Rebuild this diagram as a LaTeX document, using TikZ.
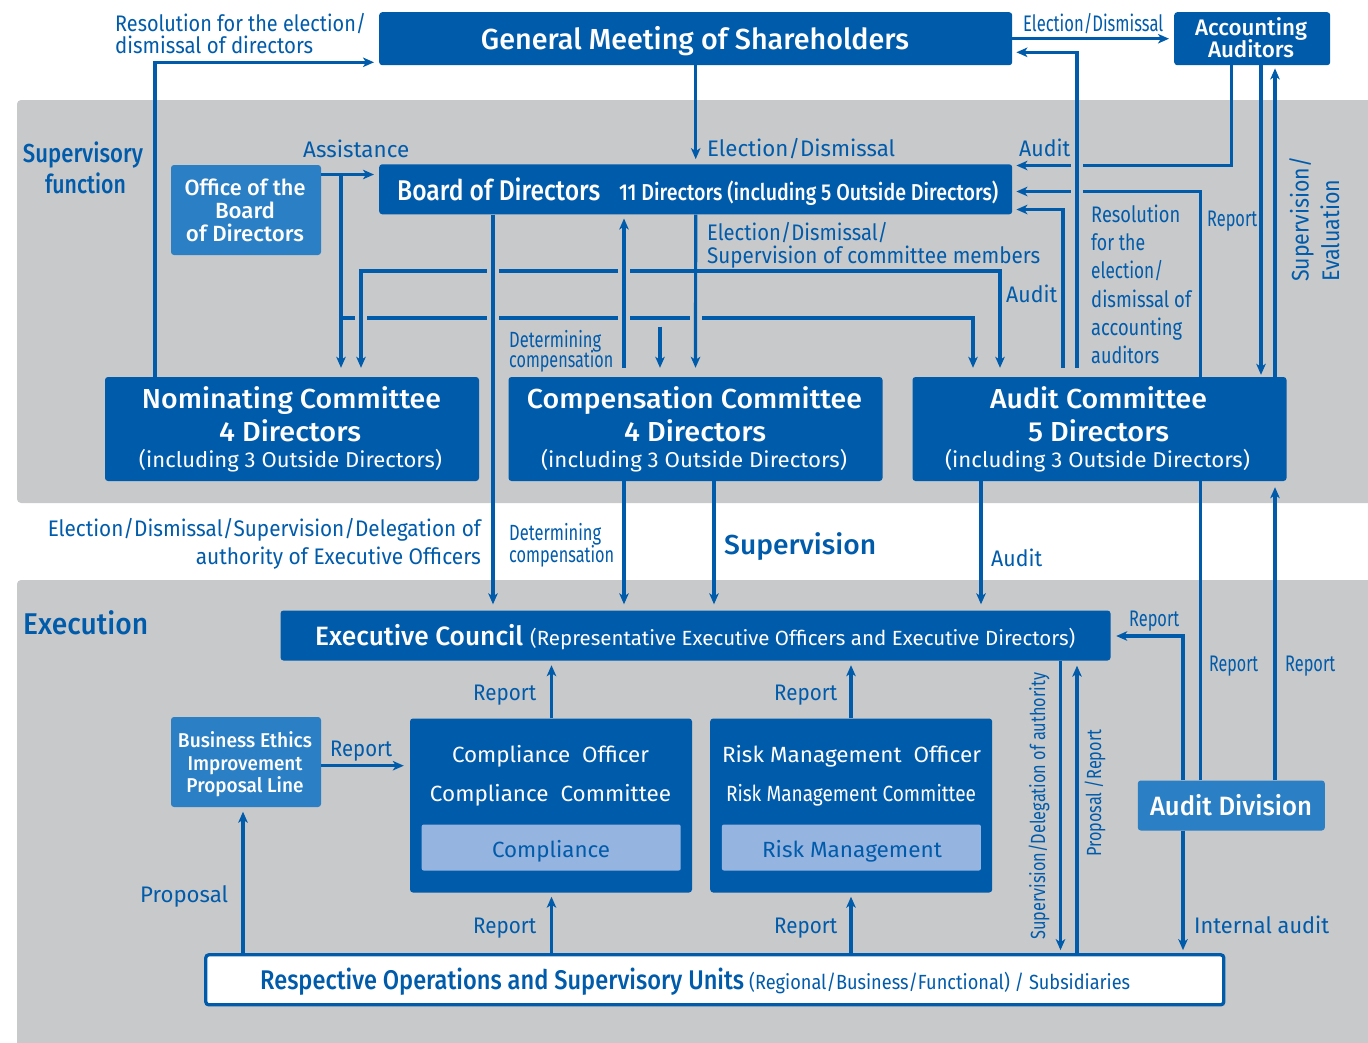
\documentclass[tikz,border=0pt]{standalone}
\usepackage{fontspec}
\usepackage{graphicx}
\setmainfont{Fira Sans}
\IfFontExistsTF{Fira Sans Medium}{\newfontfamily\mdf{Fira Sans Medium}}{\newfontfamily\mdf{Fira Sans}[FakeBold=0.4]}
\usetikzlibrary{arrows.meta}
\definecolor{dblue}{HTML}{005BAB}
\definecolor{lblue}{HTML}{2B7FC5}
\definecolor{iblue}{HTML}{95B4DF}
\definecolor{bandgrey}{HTML}{C8C9CB}
\newcommand\W[2]{\resizebox{#1pt}{\height}{#2}}
\newcommand\fsz[1]{\fontsize{#1}{#1}\selectfont}
\newcommand\hop[2]{\fill[hopgap] ({#1-6},{#2-3}) rectangle ({#1+6},{#2+3});}
\tikzset{
  box/.style={fill=dblue, draw=none, rounded corners=3pt, inner sep=0pt, anchor=center},
  lbox/.style={box, fill=lblue},
  ibox/.style={box, fill=iblue, rounded corners=2pt},
  wt/.style={text=white, inner sep=0pt, anchor=base},
  bt/.style={text=dblue, inner sep=0pt, anchor=base},
  lab/.style={text=dblue, inner sep=0pt, anchor=base west, font=\fsz{22.5}},
  ln/.style={draw=dblue, line width=3.2pt},
  arr/.style={ln, -{Stealth[length=11pt,width=9.5pt,inset=3pt]}, shorten >=5pt},
  hopgap/.style={fill=bandgrey, draw=none}
}
\begin{document}
\begin{tikzpicture}[x=1pt,y=-1pt]
\useasboundingbox (0,0) rectangle (1368,1042);
% bands
\fill[bandgrey, rounded corners=4pt] (17,100) rectangle (1380,503);
\fill[bandgrey, rounded corners=4pt] (17,580) rectangle (1380,1050);

% boxes
\node[box, minimum width=633pt, minimum height=53pt] (gms) at (695.7,38.7) {};
\node[box, minimum width=156pt, minimum height=53pt] (acc) at (1252.2,38.7) {};
\node[box, minimum width=633pt, minimum height=50pt] (bod) at (695.7,189.3) {};
\node[lbox, minimum width=150pt, minimum height=90pt] (off) at (246,210) {};
\node[box, minimum width=374pt, minimum height=104pt] (nom) at (292,429) {};
\node[box, minimum width=374pt, minimum height=104pt] (comp) at (695.5,429) {};
\node[box, minimum width=374pt, minimum height=104pt] (aud) at (1099.5,429) {};
\node[box, minimum width=830pt, minimum height=50pt] (exe) at (695.5,635.5) {};
\node[lbox, minimum width=150pt, minimum height=90pt] (bei) at (246,762) {};
\node[box, minimum width=282pt, minimum height=174pt] (cpl) at (551,805.5) {};
\node[ibox, minimum width=259pt, minimum height=46pt] (cpli) at (551.2,847.5) {};
\node[box, minimum width=282pt, minimum height=174pt] (rsk) at (851.2,805.5) {};
\node[ibox, minimum width=259pt, minimum height=46pt] (rski) at (851.4,847.5) {};
\node[lbox, minimum width=187pt, minimum height=50pt] (adiv) at (1231.3,805.5) {};
\node[box, fill=white, draw=dblue, line width=3.3pt, minimum width=1018pt, minimum height=50pt] (ops) at (714.8,979.8) {};

% box texts
\node[wt, font=\mdf\fsz{29}] (gmst) at (695,49.3) {\W{428}{General Meeting of Shareholders}};
\node[wt, font=\mdf\fsz{22.5}] (acct1) at (1251,35) {\W{112}{Accounting}};
\node[wt, font=\mdf\fsz{22.5}] (acct2) at (1251,57) {\W{86}{Auditors}};
\node[wt, anchor=base west, font=\mdf\fsz{28.5}] (bodt1) at (397,200) {\W{203}{Board of Directors}};
\node[wt, anchor=base west, font=\mdf\fsz{23}] (bodt2) at (619,200) {\W{379}{11 Directors (including 5 Outside Directors)}};
\node[wt, font=\mdf\fsz{22}] (offt1) at (245,195) {\W{121}{Office of the}};
\node[wt, font=\mdf\fsz{22}] (offt2) at (245,218) {\W{60}{Board}};
\node[wt, font=\mdf\fsz{22}] (offt3) at (245,241) {\W{118}{of Directors}};

\node[wt, font=\mdf\fsz{27.5}] (nomt1) at (291.5,408) {\W{299}{Nominating Committee}};
\node[wt, font=\mdf\fsz{27.5}] (nomt2) at (290,441) {\W{142}{4 Directors}};
\node[wt, font=\fsz{21.5}] (nomt3) at (290.5,467) {\W{303}{(including 3 Outside Directors)}};
\node[wt, font=\mdf\fsz{27.5}] (compt1) at (694.5,408) {\W{335}{Compensation Committee}};
\node[wt, font=\mdf\fsz{27.5}] (compt2) at (695,441) {\W{142}{4 Directors}};
\node[wt, font=\fsz{21.5}] (compt3) at (694,467) {\W{306}{(including 3 Outside Directors)}};
\node[wt, font=\mdf\fsz{27.5}] (audt1) at (1098.5,408) {\W{217}{Audit Committee}};
\node[wt, font=\mdf\fsz{27.5}] (audt2) at (1098.5,441) {\W{141}{5 Directors}};
\node[wt, font=\fsz{21.5}] (audt3) at (1097.5,467) {\W{305}{(including 3 Outside Directors)}};

\node[wt, anchor=base west, font=\mdf\fsz{26.5}] (exet1) at (315,645) {\W{208}{Executive Council}};
\node[wt, anchor=base west, font=\fsz{20.5}] (exet2) at (530,645) {\W{545}{(Representative Executive Officers and Executive Directors)}};

\node[wt, font=\mdf\fsz{20}] (beit1) at (245,747) {\W{134}{Business Ethics}};
\node[wt, font=\mdf\fsz{20}] (beit2) at (245,770) {\W{115}{Improvement}};
\node[wt, font=\mdf\fsz{20}] (beit3) at (245,792) {\W{117}{Proposal Line}};

\node[wt, font=\fsz{22}] (cplt1) at (550.5,762) {\W{197}{Compliance\ \ Officer}};
\node[wt, font=\fsz{22}] (cplt2) at (550.5,801) {\W{241}{Compliance\ \ Committee}};
\node[bt, font=\fsz{22}] (cplit) at (551,857) {\W{118}{Compliance}};
\node[wt, font=\fsz{22}] (rskt1) at (851.5,762) {\W{259}{Risk Management\ \ Officer}};
\node[wt, font=\fsz{22}] (rskt2) at (851,801) {\W{250}{Risk Management Committee}};
\node[bt, font=\fsz{22}] (rskit) at (852,857) {\W{180}{Risk Management}};

\node[wt, font=\mdf\fsz{26.5}] (adivt) at (1231,815) {\W{162}{Audit Division}};

\node[bt, anchor=base west, font=\mdf\fsz{27}] (opst1) at (260,989) {\W{484}{Respective Operations and Supervisory Units}};
\node[bt, anchor=base west, font=\fsz{20.5}] (opst2) at (749,989) {\W{381}{(Regional/Business/Functional) / Subsidiaries}};

% region titles
\node[bt, font=\mdf\fsz{26}] (supt1) at (83,162) {\W{120}{Supervisory}};
\node[bt, font=\mdf\fsz{26}] (supt2) at (85.5,193) {\W{81}{function}};
\node[lab, font=\mdf\fsz{30}] (exec) at (23,634) {\W{125}{Execution}};
\node[lab, font=\mdf\fsz{27.5}] (supv) at (724,554) {\W{152}{Supervision}};

% labels
\node[lab] (l1a) at (115,31.7) {\W{251}{Resolution for the election/}};
\node[lab] (l1b) at (115,53.3) {\W{198}{dismissal of directors}};
\node[lab] (l2) at (303,157) {\W{106}{Assistance}};
\node[lab] (l3) at (707,156) {\W{188}{Election/Dismissal}};
\node[lab] (l4) at (1023,31) {\W{140}{Election/Dismissal}};
\node[lab] (l5) at (1019,156) {\W{51}{Audit}};
\node[lab] (l6a) at (707,240) {\W{181}{Election/Dismissal/}};
\node[lab] (l6b) at (707,263) {\W{333}{Supervision of committee members}};
\node[lab] (l7) at (1006,302) {\W{51}{Audit}};
\node[lab] (l8a) at (1091,222) {\W{89}{Resolution}};
\node[lab] (l8b) at (1091,250) {\W{54}{for the}};
\node[lab] (l8c) at (1091,278) {\W{72}{election/}};
\node[lab] (l8d) at (1091,307) {\W{100}{dismissal of}};
\node[lab] (l8e) at (1091,335) {\W{91}{accounting}};
\node[lab] (l8f) at (1091,363) {\W{68}{auditors}};
\node[lab] (l9) at (1207,226) {\W{50}{Report}};
\node[lab, rotate=90, font=\fsz{24}] (l10a) at (1308.5,282) {\W{125}{Supervision/}};
\node[lab, rotate=90, font=\fsz{24}] (l10b) at (1339,282) {\W{102}{Evaluation}};
\node[lab, font=\fsz{22}] (l11a) at (509,347) {\W{92}{Determining}};
\node[lab, font=\fsz{22}] (l11b) at (509,367) {\W{104}{compensation}};
\node[lab, anchor=base east] (l12a) at (481,536) {\W{433}{Election/Dismissal/Supervision/Delegation of}};
\node[lab, anchor=base east] (l12b) at (481,564) {\W{285}{authority of Executive Officers}};
\node[lab, font=\fsz{22}] (l13a) at (509,540) {\W{92}{Determining}};
\node[lab, font=\fsz{22}] (l13b) at (509,562) {\W{105}{compensation}};
\node[lab] (l14) at (991,566) {\W{51}{Audit}};
\node[lab] (l15) at (1129,626) {\W{50}{Report}};
\node[lab] (l16) at (1209,671) {\W{49}{Report}};
\node[lab] (l17) at (1285,671) {\W{50}{Report}};
\node[lab] (l18) at (473,700) {\W{63}{Report}};
\node[lab] (l19) at (774,700) {\W{63}{Report}};
\node[lab] (l20) at (330,756) {\W{62}{Report}};
\node[lab, rotate=90, font=\fsz{20.5}] (l21) at (1045,940) {\W{267}{Supervision/Delegation of authority}};
\node[lab, rotate=90, font=\fsz{20.5}] (l22) at (1101,857) {\W{127}{Proposal /Report}};
\node[lab] (l23) at (140,902) {\W{88}{Proposal}};
\node[lab] (l24) at (473,933) {\W{63}{Report}};
\node[lab] (l25) at (774,933) {\W{63}{Report}};
\node[lab] (l26) at (1194,933) {\W{135}{Internal audit}};

% coordinates
\coordinate (p155) at (155,62.3);
\coordinate (p341) at (341,174.5);
\coordinate (p341b) at (341,318);
\coordinate (p973) at (973,318);
\coordinate (j271) at (695.5,271);
\coordinate (p361) at (361,271);
\coordinate (p1000) at (1000,271);
\coordinate (p660) at (660,326.5);
\coordinate (p493) at (493,0);
\coordinate (p624) at (624,0);
\coordinate (p714) at (714,0);
\coordinate (p981) at (981,0);
\coordinate (p1077) at (1077,52.3);
\coordinate (p1063) at (1063,209.5);
\coordinate (p1200) at (1200.5,191.5);
\coordinate (p1231) at (1231.5,165.5);
\coordinate (p1261) at (1261,0);
\coordinate (p1275) at (1275,0);
\coordinate (p1183) at (1183,636);
\coordinate (p1061) at (1060.5,0);
\coordinate (p1077b) at (1077,0);
\coordinate (p551) at (551.5,0);
\coordinate (p851) at (851,0);
\coordinate (p243) at (243,0);
\coordinate (p766) at (0,765.7);

% connectors (top)
\draw[arr] (p155 |- nom.north) |- (p155 -| gms.west);
\draw[arr] (gms.south) -- (bod.north);
\draw[arr] (gms.east) -- (acc.west);
\draw[arr, shorten <=9pt, shorten >=4pt] (p1063 |- aud.north) |- (p1063 -| bod.east);
\draw[arr] (off.east |- p341) -- (p341 -| bod.west);
\draw[arr, shorten >=9pt] (p341) -- (p341 |- nom.north);
% y=318
\draw[arr, shorten >=9pt] (p341b) -| (p973 |- aud.north);
\hop{361}{318}\hop{493}{318}\hop{624}{318}\hop{695.5}{318}
% y=271
\draw[arr, shorten >=9pt] (j271) -| (p361 |- nom.north);
\draw[arr, shorten >=9pt] (j271) -| (p1000 |- aud.north);
\hop{493}{271}\hop{624}{271}
% y=165, 191
\draw[arr, shorten >=4pt] (p1231 |- acc.south) |- (p1231 -| bod.east);
\draw[arr, shorten >=4pt] (p1200 |- aud.north) |- (p1200 -| bod.east);
\hop{1077}{165.5}\hop{1077}{191.5}
% verticals on top
\draw[arr, shorten >=9pt] (bod.south) -- (comp.north);
\draw[arr, shorten <=9pt, shorten >=4pt] (p624 |- comp.north) -- (p624 |- bod.south);
\draw[arr, shorten >=6pt] (p493 |- bod.south) -- (p493 |- exe.north);
\draw[arr, shorten <=9pt, shorten >=4pt] (p1077 |- aud.north) |- (p1077 -| gms.east);
\draw[arr, shorten >=9pt] (p660) -- (p660 |- comp.north);
\draw[arr, shorten >=2pt] (p1261 |- acc.south) -- (p1261 |- aud.north);
\draw[arr, shorten >=3pt] (p1275 |- aud.north) -- (p1275 |- acc.south);

% below committees
\draw[arr, shorten >=6pt] (p624 |- comp.south) -- (p624 |- exe.north);
\draw[arr, shorten >=6pt] (p714 |- comp.south) -- (p714 |- exe.north);
\draw[arr, shorten >=6pt] (p981 |- aud.south) -- (p981 |- exe.north);
\draw[ln] (p1200 |- adiv.north) -- (p1200 |- aud.south);
\draw[arr, shorten >=6pt] (p1275 |- adiv.north) -- (p1275 |- aud.south);
\draw[arr, shorten >=5.5pt] (p1183 |- adiv.north) |- (p1183 -| exe.east);
\draw[arr, shorten >=3pt] (p1183 |- adiv.south) -- (p1183 |- ops.north);
\draw[arr, shorten >=3pt] (p1061 |- exe.south) -- (p1061 |- ops.north);
\draw[arr, shorten >=5pt] (p1077b |- ops.north) -- (p1077b |- exe.south);
\draw[arr, shorten >=4.5pt] (p551 |- cpl.north) -- (p551 |- exe.south);
\draw[arr, shorten >=4.5pt] (p851 |- rsk.north) -- (p851 |- exe.south);
\draw[arr, shorten >=4pt] (p551 |- ops.north) -- (p551 |- cpl.south);
\draw[arr, shorten >=4pt] (p851 |- ops.north) -- (p851 |- rsk.south);
\draw[arr, shorten >=4.5pt] (p243 |- ops.north) -- (p243 |- bei.south);
\draw[arr, shorten >=6pt] (bei.east |- p766) -- (cpl.west |- p766);
\end{tikzpicture}
\end{document}
